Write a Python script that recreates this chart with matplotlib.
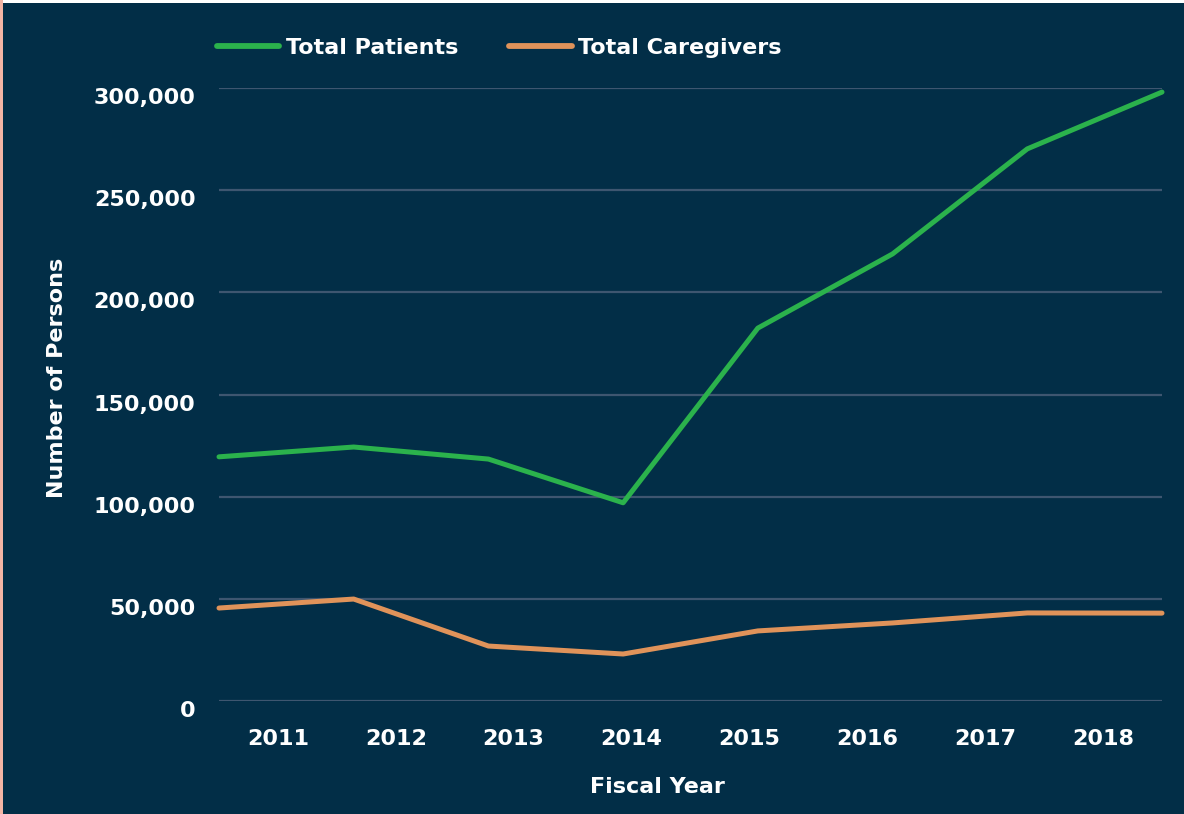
import matplotlib
matplotlib.use('Agg')
import matplotlib.pyplot as plt
import matplotlib.transforms as mtransforms
from matplotlib.patches import Rectangle
from matplotlib.ticker import FuncFormatter

# Data
years = ['2011', '2012', '2013', '2014', '2015', '2016', '2017', '2018']
total_patients = [119500, 124300, 118400, 97000, 182500, 218800, 270200, 298000]
total_caregivers = [45500, 49900, 26900, 23000, 34300, 38200, 43100, 43000]
y_ticks = [0, 50000, 100000, 150000, 200000, 250000, 300000]

BG = '#022e47'
GREEN = '#2bb24c'
ORANGE = '#e0935a'
GRID = '#3e5670'
TEXT = 'white'
FS = 16

plt.rcParams['font.family'] = ['DejaVu Sans']
plt.rcParams['font.weight'] = 'bold'

fig = plt.figure(figsize=(11.84, 8.14), dpi=100, facecolor=BG)
ax = fig.add_axes([219 / 1184, 1 - 701 / 814, (1162 - 219) / 1184, (701 - 88) / 814])
ax.set_facecolor(BG)

# edge strips seen on the reference
fig.patches.append(Rectangle((0, 1 - 3 / 814), 1, 3 / 814, transform=fig.transFigure,
                             facecolor='white', edgecolor='none', zorder=0))
fig.patches.append(Rectangle((0, 0), 3 / 1184, 1, transform=fig.transFigure,
                             facecolor='#f3b5a5', edgecolor='none', zorder=0))

n = len(years)
x = list(range(n))
ax.plot(x, total_patients, color=GREEN, lw=3.6, solid_capstyle='round',
        solid_joinstyle='round', clip_on=False, zorder=3, label='Total Patients')
ax.plot(x, total_caregivers, color=ORANGE, lw=3.6, solid_capstyle='round',
        solid_joinstyle='round', clip_on=False, zorder=3, label='Total Caregivers')

ax.set_xlim(0, n - 1)
ax.set_ylim(0, 300000)

# year labels sit at band centres, the line points at band edges
step = (n - 1) / n
ax.set_xticks([(i + 0.5) * step for i in range(n)])
ax.set_xticklabels(years)
ax.set_yticks(y_ticks)
ax.yaxis.set_major_formatter(FuncFormatter(lambda v, p: f'{int(v):,}'))

ax.tick_params(axis='both', length=0, colors=TEXT, labelsize=FS)
ax.tick_params(axis='x', pad=20)
ax.tick_params(axis='y', pad=17)
offset = mtransforms.ScaledTranslation(0, -8 / 100, fig.dpi_scale_trans)
for lab in ax.get_yticklabels():
    lab.set_transform(lab.get_transform() + offset)
    lab.set_fontweight('bold')
for lab in ax.get_xticklabels():
    lab.set_fontweight('bold')

ax.grid(axis='y', color=GRID, lw=1.6)
ax.set_axisbelow(True)
for s in ax.spines.values():
    s.set_visible(False)

fig.text(657 / 1184, 1 - 787 / 814, 'Fiscal Year', color=TEXT, fontsize=FS,
         fontweight='bold', ha='center', va='center')
fig.text(57 / 1184, 1 - 378 / 814, 'Number of Persons', color=TEXT, fontsize=FS,
         fontweight='bold', ha='center', va='center', rotation=90)

leg = fig.legend(loc='center left', bbox_to_anchor=(197 / 1184, 1 - 48 / 814), ncol=2,
                 frameon=False, fontsize=FS, handlelength=2.8, handletextpad=0.3,
                 columnspacing=2.3, labelcolor=TEXT)
for t in leg.get_texts():
    t.set_fontweight('bold')
for h in leg.legend_handles:
    h.set_solid_capstyle('round')
    h.set_linewidth(4.2)

fig.savefig('out.png', dpi=100, facecolor=BG)
